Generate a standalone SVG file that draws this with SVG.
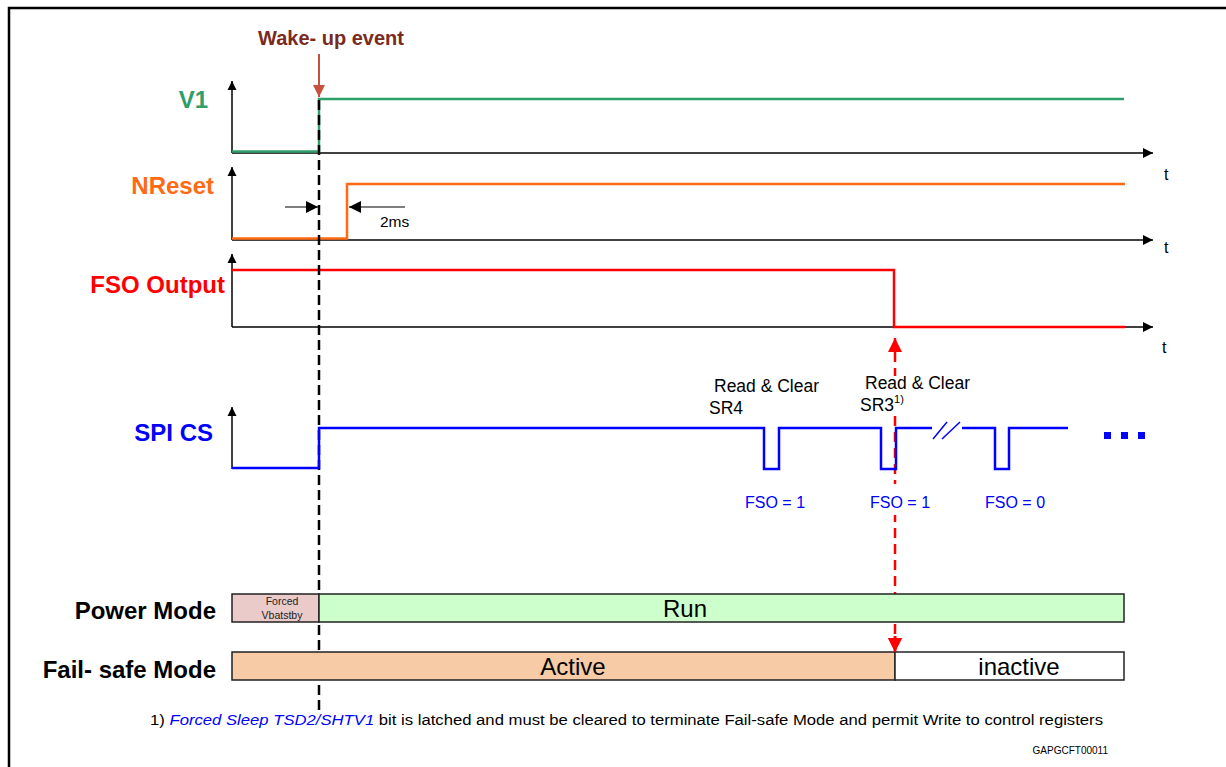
<svg xmlns="http://www.w3.org/2000/svg" width="1226" height="767" viewBox="0 0 1226 767">
<defs>
<marker id="ah" viewBox="0 0 10 10" refX="10" refY="5" markerWidth="10" markerHeight="10" markerUnits="userSpaceOnUse" orient="auto"><path d="M0,0 L10,5 L0,10 Z" fill="#000"/></marker>
<marker id="ahy" viewBox="0 0 10 10" refX="10" refY="5" markerWidth="9" markerHeight="10" markerUnits="userSpaceOnUse" orient="auto"><path d="M0,0 L10,5 L0,10 Z" fill="#000"/></marker>
<marker id="dim" viewBox="0 0 10 10" refX="10" refY="5" markerWidth="14" markerHeight="12" markerUnits="userSpaceOnUse" orient="auto"><path d="M0,0 L10,5 L0,10 Z" fill="#000"/></marker>
<marker id="wake" viewBox="0 0 10 10" refX="10" refY="5" markerWidth="14" markerHeight="12" markerUnits="userSpaceOnUse" orient="auto"><path d="M0,0 L10,5 L0,10 Z" fill="#c8503f"/></marker>
<marker id="red" viewBox="0 0 10 10" refX="10" refY="5" markerWidth="16" markerHeight="14" markerUnits="userSpaceOnUse" orient="auto"><path d="M0,0 L10,5 L0,10 Z" fill="#ff0000"/></marker>
</defs>
<style>
text{font-family:"Liberation Sans",Arial,sans-serif}
.lbl{font-size:24px;font-weight:bold}
.axis{stroke:#000;stroke-width:1.5;fill:none}
.sig{fill:none;stroke-width:2.5}
.t{font-size:16px;fill:#000}
.small{font-size:17.5px;fill:#000}
.fso{font-size:16px;fill:#0000ff}
.box{stroke:#222;stroke-width:1.5}
.boxtxt{font-size:24px;fill:#000}
</style>
<rect width="1226" height="767" fill="#fff"/>
<path d="M1230,8 H9 V770" fill="none" stroke="#000" stroke-width="2.5"/>

<g id="wakeup">
<text x="331" y="45" text-anchor="middle" font-size="20" font-weight="bold" fill="#7b2a20">Wake- up event</text>
<line x1="319" y1="54" x2="319" y2="97" stroke="#c8503f" stroke-width="2" marker-end="url(#wake)"/>
</g>

<g id="v1">
<text class="lbl" x="208" y="108" text-anchor="end" fill="#2e9e6a">V1</text>
<line class="axis" x1="232" y1="153" x2="232" y2="81" marker-end="url(#ahy)"/>
<line class="axis" x1="232" y1="153" x2="1153" y2="153" marker-end="url(#ah)"/>
<text class="t" x="1164" y="180">t</text>
<polyline class="sig" stroke="#2e9e6a" points="232,151.5 319,151.5 319,99 1124,99"/>
</g>

<g id="nreset">
<text class="lbl" x="214" y="194" text-anchor="end" fill="#ff6a13">NReset</text>
<line class="axis" x1="232" y1="240" x2="232" y2="167" marker-end="url(#ahy)"/>
<line class="axis" x1="232" y1="240" x2="1153" y2="240" marker-end="url(#ah)"/>
<text class="t" x="1164" y="253">t</text>
<polyline class="sig" stroke="#ff6a13" points="232,238.5 347,238.5 347,184 1125,184"/>
<line x1="285" y1="207" x2="318" y2="207" stroke="#555" stroke-width="1.5" marker-end="url(#dim)"/>
<line x1="405" y1="207" x2="349" y2="207" stroke="#555" stroke-width="1.5" marker-end="url(#dim)"/>
<text x="380" y="227" font-size="15.5" fill="#000">2ms</text>
</g>

<g id="fso">
<text class="lbl" x="225" y="293" text-anchor="end" fill="#ff0000">FSO Output</text>
<line class="axis" x1="232" y1="327" x2="232" y2="254" marker-end="url(#ahy)"/>
<line class="axis" x1="232" y1="327" x2="1153" y2="327" marker-end="url(#ah)"/>
<text class="t" x="1162" y="353">t</text>
<polyline class="sig" stroke="#ff0000" points="232,270 894,270 894,327 1125,327"/>
</g>

<g id="connectors">
<line x1="319" y1="100" x2="319" y2="712" stroke="#000" stroke-width="2.5" stroke-dasharray="10,5"/>
<line x1="895" y1="350" x2="895" y2="338" stroke="#ff0000" stroke-width="2.5" marker-end="url(#red)"/>
<line x1="895" y1="352" x2="895" y2="636" stroke="#ff0000" stroke-width="2.5" stroke-dasharray="10,6"/>
<line x1="895" y1="636" x2="895" y2="652" stroke="#ff0000" stroke-width="2.5" marker-end="url(#red)"/>
</g>

<g id="spics">
<text class="lbl" x="213" y="441" text-anchor="end" fill="#0000ff">SPI CS</text>
<line class="axis" x1="232" y1="469" x2="232" y2="407" marker-end="url(#ahy)"/>
<polyline class="sig" stroke="#0000ff" points="232,468 319,468 319,428 764,428 764,469 779,469 779,428 881,428 881,469 896,469 896,428 932,428"/>
<polyline class="sig" stroke="#0000ff" points="962,428 995,428 995,469 1009,469 1009,428 1068,428"/>
<line x1="933" y1="439" x2="947" y2="422" stroke="#0000ff" stroke-width="1.5"/>
<line x1="942" y1="439" x2="960" y2="422" stroke="#0000ff" stroke-width="1.5"/>
<rect x="1104" y="432" width="7" height="7" fill="#0000ff"/>
<rect x="1121" y="432" width="7" height="7" fill="#0000ff"/>
<rect x="1138" y="432" width="7" height="7" fill="#0000ff"/>
<text class="small" x="714" y="392">Read &amp; Clear</text>
<text class="small" x="709" y="414">SR4</text>
<rect x="862" y="376" width="110" height="36" fill="#fff"/>
<text class="small" x="865" y="389">Read &amp; Clear</text>
<text class="small" x="860" y="411">SR3<tspan font-size="11" dy="-8">1)</tspan></text>
<text class="fso" x="745" y="508">FSO = 1</text>
<rect x="868" y="484" width="66" height="31" fill="#fff"/>
<text class="fso" x="870" y="508">FSO = 1</text>
<text class="fso" x="985" y="508">FSO = 0</text>
</g>

<g id="powermode">
<text class="lbl" x="216" y="619" text-anchor="end" fill="#000">Power Mode</text>
<rect class="box" x="232" y="594" width="87" height="28" fill="#ebcaca"/>
<text x="282" y="605" text-anchor="middle" font-size="10.5" fill="#222">Forced</text>
<text x="282" y="619" text-anchor="middle" font-size="10.5" fill="#222">Vbatstby</text>
<rect class="box" x="319" y="594" width="805" height="28" fill="#ccffcc"/>
<text class="boxtxt" x="685" y="617" text-anchor="middle">Run</text>
</g>

<g id="failsafe">
<text class="lbl" x="216" y="678" text-anchor="end" fill="#000">Fail- safe Mode</text>
<rect class="box" x="232" y="652" width="663" height="28" fill="#f7cba6"/>
<text class="boxtxt" x="573" y="675" text-anchor="middle">Active</text>
<rect class="box" x="895" y="652" width="229" height="28" fill="#fff"/>
<text class="boxtxt" x="1019" y="675" text-anchor="middle">inactive</text>
</g>

<g id="redarrowhead">
<line x1="895" y1="636" x2="895" y2="652" stroke="#ff0000" stroke-width="2.5" marker-end="url(#red)"/>
</g>

<g id="footnote">
<text x="150" y="725" font-size="14" fill="#000" textLength="953" lengthAdjust="spacingAndGlyphs">1)  <tspan fill="#0000ff" font-style="italic">Forced Sleep TSD2/SHTV1</tspan> bit is latched and must be cleared to terminate Fail-safe Mode and permit Write to control registers</text>
<text x="1108" y="754" text-anchor="end" font-size="10" fill="#000">GAPGCFT00011</text>
</g>
</svg>
